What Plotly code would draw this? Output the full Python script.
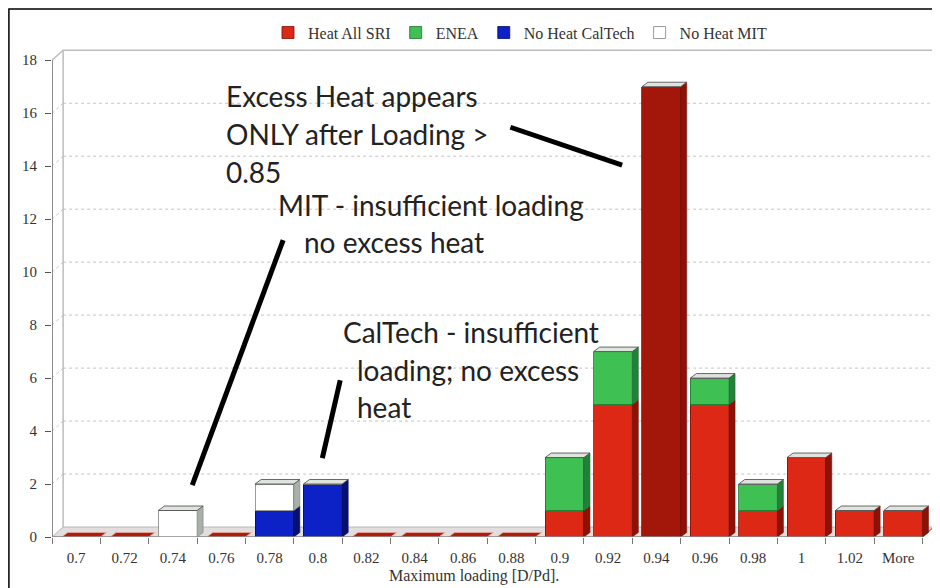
import plotly.graph_objects as go

# ---------------- data ----------------
categories = ["0.7", "0.72", "0.74", "0.76", "0.78", "0.8", "0.82", "0.84", "0.86",
              "0.88", "0.9", "0.92", "0.94", "0.96", "0.98", "1", "1.02", "More"]
heat_all_sri    = [0, 0, 0, 0, 0, 0, 0, 0, 0, 0, 1, 5, 17, 5, 1, 3, 1, 1]
enea            = [0, 0, 0, 0, 0, 0, 0, 0, 0, 0, 2, 2, 0, 1, 1, 0, 0, 0]
no_heat_caltech = [0, 0, 0, 0, 1, 2, 0, 0, 0, 0, 0, 0, 0, 0, 0, 0, 0, 0]
no_heat_mit     = [0, 0, 1, 0, 1, 0, 0, 0, 0, 0, 0, 0, 0, 0, 0, 0, 0, 0]
y_ticks = [0, 2, 4, 6, 8, 10, 12, 14, 16, 18]

# ---------------- styling ----------------
series = [
    ("Heat All SRI", heat_all_sri, "#dc2814", "#8c1208", "#7a1006"),
    ("ENEA", enea, "#3fc052", "#23803a", "#1f7030"),
    ("No Heat CalTech", no_heat_caltech, "#0d22c6", "#061070", "#050c60"),
    ("No Heat MIT", no_heat_mit, "#ffffff", "#a9b0a9", "#7d837d"),
]
n = len(categories)
idx = list(range(n))
W, OFF = 0.8, -0.3          # bar front-face width / offset
BDX, BDY = 0.125, 0.17      # bar depth
WDX, WDY = 0.23, 0.377      # wall depth
YMAX = y_ticks[-1]
XR = (-0.5, n - 0.5 + WDX + 0.03)
PX_PER_CAT = 48.33

fig = go.Figure()
for name, vals, front, side, edge in series:
    cols = [front] * n
    if name == "Heat All SRI":
        cols = ["#a3160a" if c == "0.94" else front for c in categories]
    fig.add_trace(go.Bar(
        x=idx, y=vals, name=name, width=W, offset=OFF,
        marker=dict(color=cols, line=dict(color=edge, width=0.8)),
    ))

shapes = []
grid = dict(color="#c4c4c4", width=1, dash="dot")
wall = dict(color="#bdbdbd", width=1.5)
# floor
shapes.append(dict(type="path", xref="x", yref="y", layer="below",
                   path=f"M -0.5,0 L {n-0.5},0 L {n-0.5+WDX},{WDY} L {-0.5+WDX},{WDY} Z",
                   fillcolor="#e2dede", line=dict(color="#b8b8b8", width=1)))
# back wall gridlines
for k in y_ticks[1:-1]:
    shapes.append(dict(type="line", xref="x", yref="y", layer="below",
                       x0=-0.5 + WDX, x1=n - 0.5 + WDX, y0=k + WDY, y1=k + WDY, line=grid))
    shapes.append(dict(type="line", xref="x", yref="y", layer="below",
                       x0=-0.5, x1=-0.5 + WDX, y0=k, y1=k + WDY, line=grid))
# back wall outline
shapes.append(dict(type="path", xref="x", yref="y", layer="below",
                   path=(f"M {-0.5+WDX},{WDY} L {-0.5+WDX},{YMAX+WDY} L {n-0.5+WDX},{YMAX+WDY} "
                         f"L {n-0.5+WDX},{WDY}"), line=wall))
shapes.append(dict(type="line", xref="x", yref="y", layer="below",
                   x0=-0.5, x1=-0.5 + WDX, y0=YMAX, y1=YMAX + WDY, line=wall))
shapes.append(dict(type="line", xref="x", yref="y", layer="above",
                   x0=n - 0.5, x1=n - 0.5 + WDX, y0=0, y1=WDY, line=dict(color="#888", width=1.2)))

# 3D sides / tops of the bars
for i in idx:
    base = 0
    for name, vals, front, side, edge in series:
        v = vals[i]
        if v <= 0:
            continue
        xr = i + OFF + W
        shapes.append(dict(type="path", xref="x", yref="y", layer="above",
                           path=(f"M {xr},{base} L {xr+BDX},{base+BDY} L {xr+BDX},{base+v+BDY} "
                                 f"L {xr},{base+v} Z"),
                           fillcolor=side, line=dict(color=edge, width=0.6)))
        base += v
    xl = i + OFF
    if base > 0:
        shapes.append(dict(type="path", xref="x", yref="y", layer="above",
                           path=(f"M {xl},{base} L {xl+W},{base} L {xl+W+BDX},{base+BDY} "
                                 f"L {xl+BDX},{base+BDY} Z"),
                           fillcolor="#dfe4df", line=dict(color="#444", width=0.8)))
    else:
        shapes.append(dict(type="path", xref="x", yref="y", layer="above",
                           path=(f"M {xl},0 L {xl+W},0 L {xl+W+BDX},{BDY} L {xl+BDX},{BDY} Z"),
                           fillcolor="#b01c0c", line=dict(color="#e8a8a0", width=0.8)))

# front axis lines
shapes.append(dict(type="line", xref="x", yref="y", layer="above",
                   x0=-0.5, x1=-0.5, y0=0, y1=YMAX, line=dict(color="#666", width=1.5)))
shapes.append(dict(type="line", xref="x", yref="y", layer="above",
                   x0=-0.5, x1=n - 0.5, y0=0, y1=0, line=dict(color="#888", width=1.5)))

# annotation pointer lines
pointers = [((8.98, 15.47), (11.29, 14.04)),
            ((4.28, 11.21), (2.40, 1.96)),
            ((5.46, 5.92), (5.09, 2.98))]
for (xa, ya), (xb, yb) in pointers:
    shapes.append(dict(type="line", xref="x", yref="y", layer="above",
                       x0=xa, y0=ya, x1=xb, y1=yb, line=dict(color="#000", width=5)))

# outer border
shapes.append(dict(type="rect", xref="paper", yref="paper",
                   x0=-0.0488, x1=1.2, y0=-0.3, y1=1.0776,
                   line=dict(color="#000", width=1.5)))

notes = [
    ("Excess Heat appears", 3.06, 16.64),
    ("ONLY after Loading >", 3.06, 15.21),
    ("0.85", 3.06, 13.77),
    ("MIT - insufficient loading", 4.13, 12.53),
    ("no excess heat", 4.67, 11.13),
    ("CalTech - insufficient", 5.48, 7.74),
    ("loading; no excess", 5.77, 6.30),
    ("heat", 5.77, 4.91),
]
annotations = [dict(text=t, x=x, y=y, xref="x", yref="y", xanchor="left", yanchor="middle",
                    showarrow=False, font=dict(family="Lato", size=28, color="#222"))
               for t, x, y in notes]
annotations.append(dict(text="Maximum loading [D/Pd].", x=0.478, y=-0.0796, xref="paper",
                        yref="paper", xanchor="center", yanchor="middle", showarrow=False,
                        font=dict(family="Liberation Serif", size=16, color="#333")))

# the page shows the figure 8px in from the top-left corner; margins account for it
plot_w = round((XR[1] - XR[0]) * PX_PER_CAT)
fig.update_layout(
    width=940, height=588,
    margin=dict(l=44, r=940 - 44 - plot_w, t=39, b=59, autoexpand=False),
    paper_bgcolor="white", plot_bgcolor="white",
    barmode="stack", bargap=0.2,
    showlegend=True,
    legend=dict(orientation="h", x=0.53, xanchor="center", y=1.064, yanchor="top",
                font=dict(family="Liberation Serif", size=16, color="#333"),
                traceorder="normal", itemwidth=30, bgcolor="rgba(0,0,0,0)"),
    xaxis=dict(type="linear", range=list(XR), tickmode="array", tickvals=idx,
               ticktext=categories, ticks="", showgrid=False, zeroline=False, showline=False,
               automargin=False, ticklabelstandoff=10,
               tickfont=dict(family="Liberation Serif", size=15, color="#333"),
               minor=dict(ticks="outside", ticklen=6, tickcolor="#777", tickwidth=1.2,
                          tickmode="linear", tick0=-0.5, dtick=1, showgrid=False)),
    yaxis=dict(range=[0, 18.5], tickmode="array", tickvals=y_ticks, ticks="outside",
               ticklen=6, tickcolor="#555", tickwidth=1.2, showgrid=False, zeroline=False,
               showline=False, automargin=False, ticklabelstandoff=5,
               tickfont=dict(family="Liberation Serif", size=15, color="#333")),
    shapes=shapes,
    annotations=annotations,
)

fig.write_html("out.html")
